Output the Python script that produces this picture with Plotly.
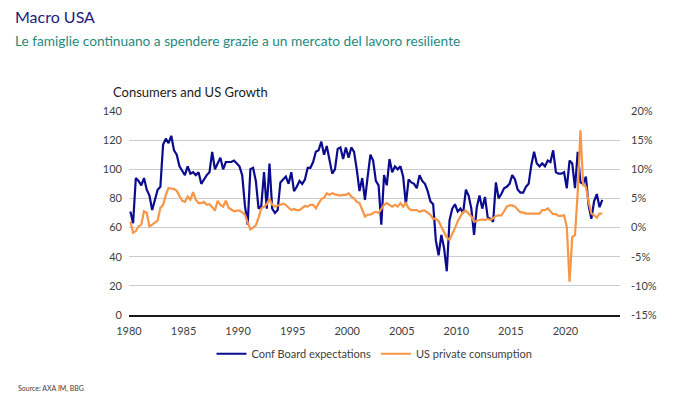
import plotly.graph_objects as go

# ---- data (quarterly, 1980Q1 .. 2023Q2) ----
start_year = 1980
conf_board = [
    71, 63, 94, 92,      # 1980
    89, 94, 86, 82,      # 1981
    72, 80, 86, 88,      # 1982
    117, 121, 118, 123,  # 1983
    113, 110, 102, 99,   # 1984
    96, 102, 97, 98,     # 1985
    96, 98, 90, 93,      # 1986
    96, 98, 112, 100,    # 1987
    104, 108, 100, 105,  # 1988
    105, 105, 106, 104,  # 1989
    102, 96, 75, 62,     # 1990
    100, 101, 92, 73,    # 1991
    75, 98, 73, 104,     # 1992
    73, 70, 72, 91,      # 1993
    93, 95, 90, 98,      # 1994
    85, 88, 92, 90,      # 1995
    93, 101, 101, 105,   # 1996
    112, 113, 119, 110,  # 1997
    116, 107, 97, 100,   # 1998
    114, 115, 107, 115,  # 1999
    108, 115, 112, 100,  # 2000
    85, 94, 79, 95,      # 2001
    110, 106, 92, 89,    # 2002
    62, 96, 89, 107,     # 2003
    98, 102, 100, 102,   # 2004
    95, 76, 93, 91,      # 2005
    90, 87, 96, 92,      # 2006
    90, 85, 78, 76,      # 2007
    51, 41, 55, 46,      # 2008
    30, 65, 73, 76,      # 2009
    71, 73, 70, 86,      # 2010
    82, 73, 55, 74,      # 2011
    82, 73, 81, 67,      # 2012
    66, 64, 91, 80,      # 2013
    83, 87, 88, 90,      # 2014
    96, 93, 86, 84,      # 2015
    84, 88, 90, 103,     # 2016
    112, 104, 102, 104,  # 2017
    102, 106, 105, 113,  # 2018
    98, 97, 97, 98,      # 2019
    87, 106, 104, 87,    # 2020
    112, 91, 90, 95,     # 2021
    75, 66, 78, 83,      # 2022
    74, 79,              # 2023
]
consumption = [
    1.1, -0.9, -0.6, 0.2,   # 1980
    0.5, 2.8, 2.5, 0.2,     # 1981
    0.5, 0.8, 1.2, 3.4,     # 1982
    3.9, 5.6, 6.8, 6.7,     # 1983
    6.6, 6.3, 5.3, 4.6,     # 1984
    4.4, 5.3, 4.8, 6.1,     # 1985
    4.8, 4.2, 4.2, 4.4,     # 1986
    3.9, 4.0, 3.5, 2.9,     # 1987
    4.6, 3.9, 3.6, 4.6,     # 1988
    3.4, 3.1, 2.8, 2.9,     # 1989
    2.9, 2.6, 2.2, 0.9,     # 1990
    -0.3, 0.0, 0.4, 1.7,    # 1991
    3.3, 3.6, 4.0, 4.9,     # 1992
    3.9, 3.6, 3.7, 3.9,     # 1993
    4.1, 3.9, 3.4, 3.0,     # 1994
    3.2, 3.0, 3.0, 3.4,     # 1995
    3.7, 3.6, 3.9, 3.9,     # 1996
    3.3, 4.1, 4.9, 5.1,     # 1997
    5.9, 5.6, 5.9, 5.7,     # 1998
    5.6, 5.5, 5.6, 5.6,     # 1999
    5.9, 5.3, 5.0, 4.4,     # 2000
    4.2, 3.0, 1.9, 2.2,     # 2001
    2.2, 2.5, 2.7, 2.5,     # 2002
    3.3, 3.9, 4.2, 3.9,     # 2003
    3.6, 3.9, 3.6, 4.2,     # 2004
    3.6, 4.2, 3.3, 3.0,     # 2005
    3.0, 3.0, 2.7, 2.9,     # 2006
    2.9, 2.5, 2.2, 1.5,     # 2007
    1.5, 1.1, 0.2, -0.7,    # 2008
    -1.7, -2.1, -1.2, -0.1, # 2009
    1.1, 1.9, 2.7, 2.9,     # 2010
    2.4, 1.9, 1.0, 1.2,     # 2011
    1.3, 1.4, 1.3, 1.5,     # 2012
    1.3, 1.6, 2.0, 2.1,     # 2013
    2.1, 2.8, 3.6, 3.8,     # 2014
    3.8, 3.6, 3.0, 2.6,     # 2015
    2.6, 2.4, 2.4, 2.4,     # 2016
    2.4, 2.3, 2.4, 3.0,     # 2017
    3.0, 3.3, 2.8, 2.3,     # 2018
    2.3, 2.0, 2.0, 2.1,     # 2019
    0.1, -9.3, -1.6, -1.3,  # 2020
    6.1, 16.7, 7.3, 7.0,    # 2021
    4.4, 2.4, 2.1, 1.7,     # 2022
    2.4, 2.4,               # 2023
]
x_ticks = [1980, 1985, 1990, 1995, 2000, 2005, 2010, 2015, 2020]
left_ticks = [0, 20, 40, 60, 80, 100, 120, 140]
right_ticks = [-15, -10, -5, 0, 5, 10, 15, 20]

# quarter mid-points as decimal years
dates = [start_year + (i + 0.5) / 4 for i in range(len(conf_board))]

BLUE = "#0b0b8f"
ORANGE = "#f79646"
FONT = "Lato"

fig = go.Figure()
fig.add_trace(go.Scatter(x=dates, y=conf_board, name="Conf Board expectations",
                         mode="lines", line=dict(color=BLUE, width=2.2), yaxis="y"))
fig.add_trace(go.Scatter(x=dates, y=consumption, name="US private consumption",
                         mode="lines", line=dict(color=ORANGE, width=2.2), yaxis="y2"))

fig.update_layout(
    width=685, height=397, autosize=False,
    paper_bgcolor="white", plot_bgcolor="white",
    margin=dict(l=121, r=73, t=103, b=90),
    font=dict(family=FONT, size=11, color="#404040"),
    showlegend=True,
    legend=dict(orientation="h", x=0.5, xanchor="center", y=-0.19, yanchor="middle",
                font=dict(family=FONT, size=11, color="#404040"),
                itemwidth=30, tracegroupgap=0),
    xaxis=dict(range=[1980, 2025], tickvals=x_ticks, ticktext=[str(t) for t in x_ticks],
               showgrid=False, zeroline=False, showline=True, linecolor="#1a1a1a",
               linewidth=2, ticks="", ticklabelstandoff=5,
               tickfont=dict(size=11, color="#404040")),
    yaxis=dict(range=[0, 140], tickvals=left_ticks, showgrid=True, gridcolor="#cccccc",
               gridwidth=1, zeroline=False, ticks="", ticklabelstandoff=6,
               tickfont=dict(size=11, color="#404040")),
    yaxis2=dict(range=[-15, 20], tickvals=right_ticks,
                ticktext=[f"{t}%" for t in right_ticks], overlaying="y", side="right",
                showgrid=False, zeroline=False, ticks="", ticklabelstandoff=10,
                tickfont=dict(size=11, color="#404040")),
    annotations=[
        dict(text="Macro USA", xref="paper", yref="paper", x=-0.236, y=1.463,
             xanchor="left", yanchor="middle", showarrow=False,
             font=dict(family=FONT, size=16, color="#1b1b7a")),
        dict(text="Le famiglie continuano a spendere grazie a un mercato del lavoro resiliente",
             xref="paper", yref="paper", x=-0.236, y=1.348, xanchor="left", yanchor="middle",
             showarrow=False, font=dict(family=FONT, size=13.7, color="#1f8a80")),
        dict(text="Consumers and US Growth", xref="paper", yref="paper", x=-0.037, y=1.093,
             xanchor="left", yanchor="middle", showarrow=False,
             font=dict(family=FONT, size=13, color="#1a1a1a")),
        dict(text="Source: AXA IM, BBG", xref="paper", yref="paper", x=-0.231, y=-0.358,
             xanchor="left", yanchor="middle", showarrow=False,
             font=dict(family=FONT, size=7, color="#404040")),
    ],
)

fig.write_html("out.html")
